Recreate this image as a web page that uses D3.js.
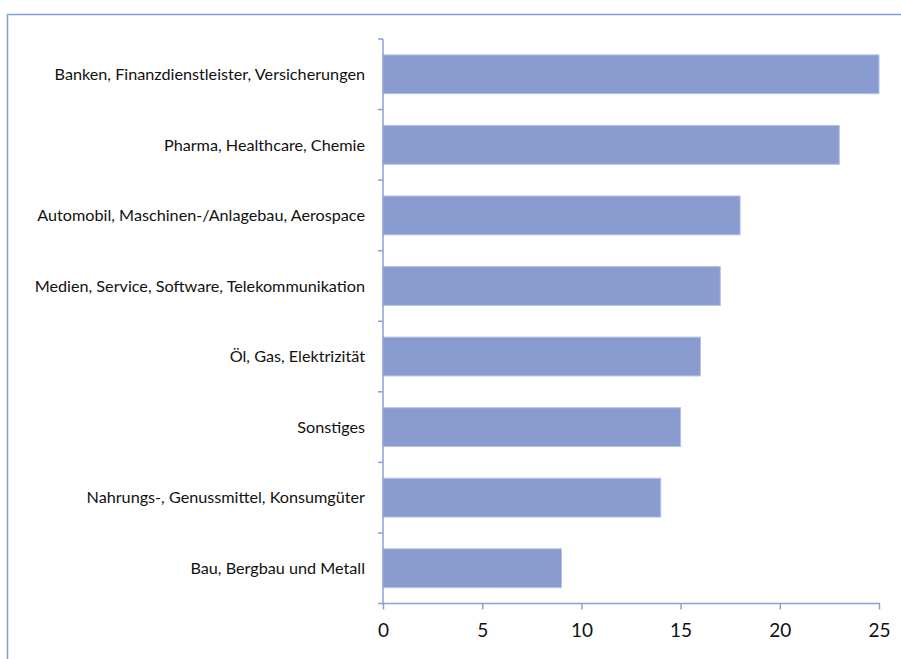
<!DOCTYPE html>
<html><head><meta charset="utf-8">
<script src="https://cdn.jsdelivr.net/npm/d3@7"></script>
<style>body{margin:0;background:#fff}svg{display:block}</style>
</head><body>
<svg id="c" width="901" height="659"></svg>
<script>
const categories = [
  "Banken, Finanzdienstleister, Versicherungen",
  "Pharma, Healthcare, Chemie",
  "Automobil, Maschinen-/Anlagebau, Aerospace",
  "Medien, Service, Software, Telekommunikation",
  "Öl, Gas, Elektrizität",
  "Sonstiges",
  "Nahrungs-, Genussmittel, Konsumgüter",
  "Bau, Bergbau und Metall"
];
const values = [25, 23, 18, 17, 16, 15, 14, 9];
const xTicks = [0, 5, 10, 15, 20, 25];

const svg = d3.select("#c");
// outer border
svg.append("path").attr("d","M7.5,659 V14.5 H901").attr("fill","none")
  .attr("stroke","#7EA0D2").attr("stroke-width",1.5);

const x0 = 383, x1 = 879, yTop = 39, yBot = 603.5;
const x = d3.scaleLinear().domain([0,25]).range([x0,x1]);
const y = d3.scaleBand().domain(categories).range([yTop,yBot]).paddingInner(0.45).paddingOuter(0.225);

const axisColor = "#8E9FD6";
// bars
svg.append("g").selectAll("rect").data(values).join("rect")
  .attr("x", x(0)).attr("y",(d,i)=>y(categories[i]))
  .attr("width", d=>x(d)-x(0)).attr("height", y.bandwidth())
  .attr("fill","#8A9BCF").attr("stroke","#B6C1E6").attr("stroke-width",1);

// y axis
const ya = svg.append("g");
ya.append("line").attr("x1",x0).attr("x2",x0).attr("y1",yTop).attr("y2",yBot)
  .attr("stroke",axisColor).attr("stroke-width",1.5);
const bounds = d3.range(categories.length+1).map(i=> yTop + i*(yBot-yTop)/categories.length);
ya.selectAll("line.t").data(bounds).join("line").attr("class","t")
  .attr("x1",x0-5).attr("x2",x0).attr("y1",d=>d).attr("y2",d=>d)
  .attr("stroke",axisColor).attr("stroke-width",1.5);
ya.selectAll("text").data(categories).join("text")
  .attr("x",365).attr("y",d=>y(d)+y.bandwidth()/2).attr("dy","0.35em")
  .attr("text-anchor","end").attr("font-family","Lato, 'Open Sans', sans-serif")
  .attr("font-size",16.2).attr("fill","#111").text(d=>d);

// x axis
const xa = svg.append("g").attr("transform",`translate(0,${yBot})`)
  .call(d3.axisBottom(x).tickValues(xTicks).tickSize(6).tickPadding(14).tickFormat(d3.format("d")));
xa.select(".domain").attr("stroke",axisColor).attr("stroke-width",1.5).attr("d",`M${x0-1},0H${x1+1}`);
xa.selectAll(".tick line").attr("stroke",axisColor).attr("stroke-width",1.5);
xa.selectAll(".tick text").attr("font-family","Lato, 'Open Sans', sans-serif").attr("font-size",19).attr("fill","#111");
</script>
</body></html>
